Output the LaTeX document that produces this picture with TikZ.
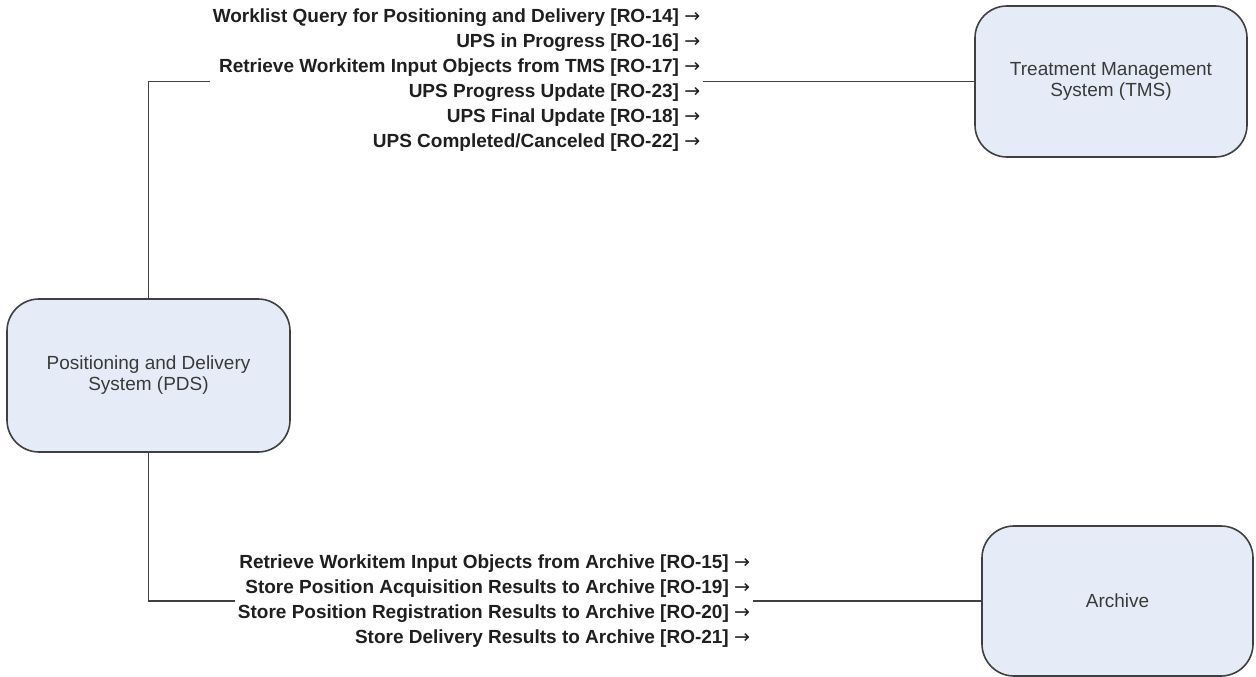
\documentclass[tikz,border=0pt]{standalone}
\usepackage{fontspec}
\setmainfont{Liberation Sans}
\newfontfamily\arrowfont{DejaVu Sans}
\definecolor{sysfill}{HTML}{E6ECF7}
\definecolor{sysline}{HTML}{404040}
\definecolor{systext}{HTML}{3A3A3A}
\newcommand{\toarrow}{{\arrowfont\mdseries →}}
\begin{document}
\begin{tikzpicture}[x=1pt,y=-1pt,
  system/.style={draw=sysline, line width=1.6pt, fill=sysfill,
    rounded corners=32pt, minimum width=#1, text=systext,
    align=center, font=\fontsize{19}{21}\selectfont, inner sep=0pt},
  system/.default=272pt,
  link/.style={draw=sysline, line width=1.6pt},
  msgs/.style={fill=white, inner sep=3pt, align=right,
    font=\bfseries\fontsize{19}{25}\selectfont, text=black!88}
]
\useasboundingbox (0,0) rectangle (1256,677);

% systems
\node[system=283pt, minimum height=153pt] (pds) at (148.5,375.5)
  {Positioning and Delivery\\System (PDS)};
\node[system=272pt, minimum height=151pt] (tms) at (1111,81.5)
  {Treatment Management\\System (TMS)};
\node[system=271pt, minimum height=150pt] (arc) at (1117.5,601)
  {Archive};

% connectors
\draw[link] (pds.north) |- (tms.west);
\draw[link] (pds.south) |- (arc.west);

% transaction labels
\node[msgs] (tmsmsg) at (456.5,80.5) {%
  Worklist Query for Positioning and Delivery [RO-14] \toarrow\\
  UPS in Progress [RO-16] \toarrow\\
  Retrieve Workitem Input Objects from TMS [RO-17] \toarrow\\
  UPS Progress Update [RO-23] \toarrow\\
  UPS Final Update [RO-18] \toarrow\\
  UPS Completed/Canceled [RO-22] \toarrow};
\node[msgs] (arcmsg) at (494,601) {%
  Retrieve Workitem Input Objects from Archive [RO-15] \toarrow\\
  Store Position Acquisition Results to Archive [RO-19] \toarrow\\
  Store Position Registration Results to Archive [RO-20] \toarrow\\
  Store Delivery Results to Archive [RO-21] \toarrow};
\end{tikzpicture}
\end{document}
